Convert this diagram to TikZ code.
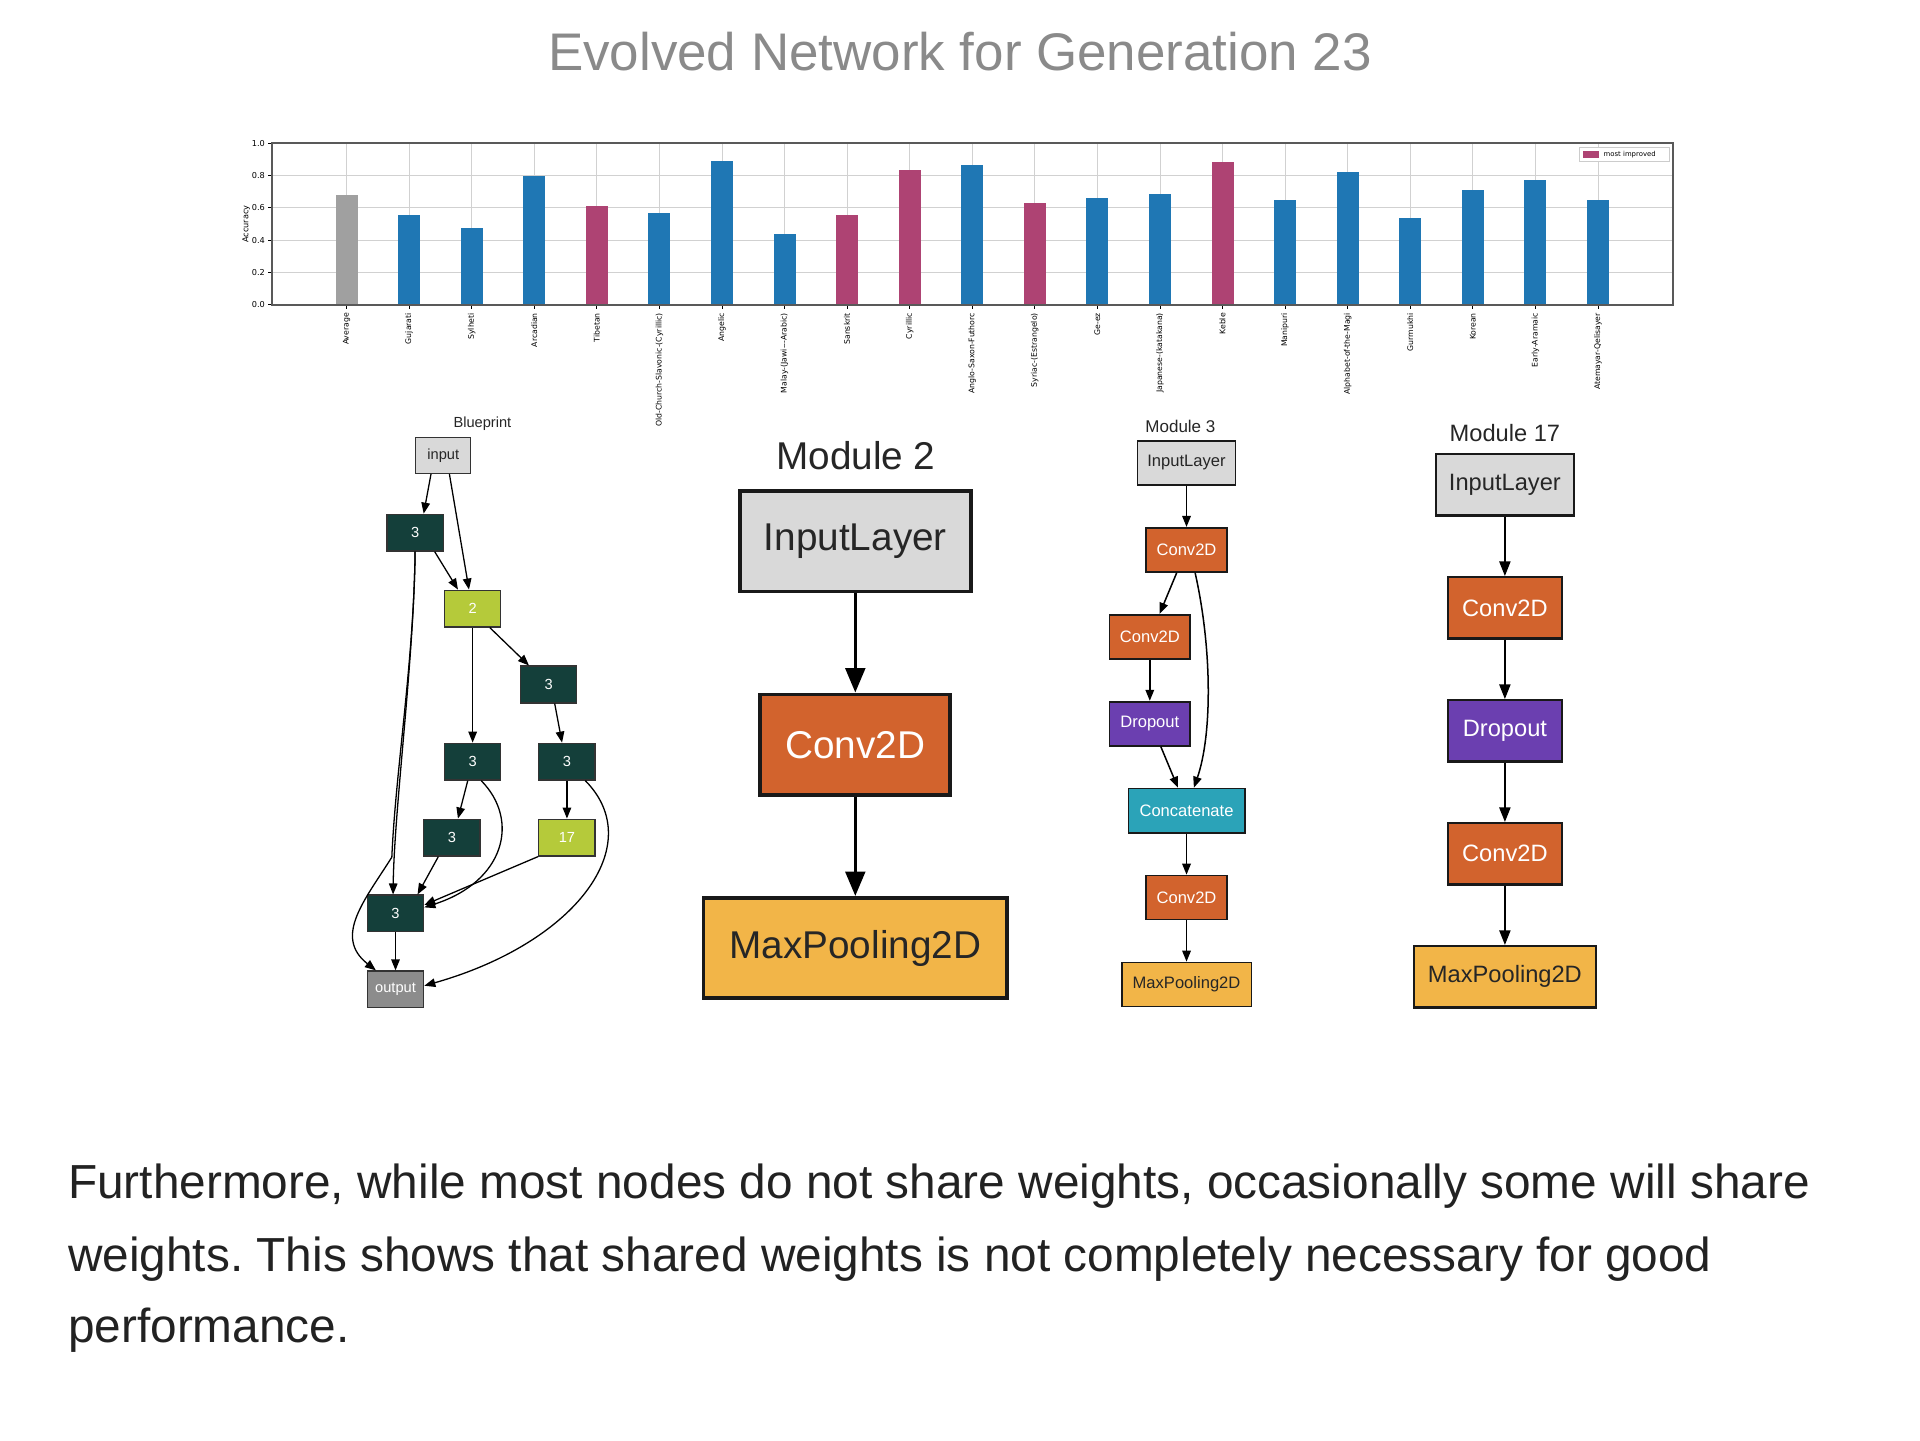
\documentclass[tikz,border=0pt]{standalone}
\usepackage{fontspec}
\setmainfont{Liberation Sans}
\newfontfamily\chartfont{DejaVu Sans}
\usepackage{xcolor}
\usepackage{tikz}
\usetikzlibrary{arrows.meta, positioning}
\definecolor{barblue}{RGB}{31,119,180}
\definecolor{barpink}{RGB}{174,67,115}
\definecolor{bargray}{RGB}{160,160,160}
\definecolor{layergray}{RGB}{217,217,217}
\definecolor{convorange}{RGB}{210,99,45}
\definecolor{poolyellow}{RGB}{242,181,72}
\definecolor{droppurple}{RGB}{107,63,176}
\definecolor{catteal}{RGB}{43,163,184}
\definecolor{moddark}{RGB}{20,63,58}
\definecolor{modlime}{RGB}{181,202,58}
\definecolor{outgray}{RGB}{140,140,140}
\definecolor{titlegray}{RGB}{138,138,138}
\definecolor{bodytext}{RGB}{34,34,34}
\frenchspacing

\begin{document}
\begin{tikzpicture}[
            x=0.1mm, y=-0.1mm,
            gridline/.style={draw=black!18, line width=0.2pt},
            ticklabel/.style={inner sep=0pt, font=\chartfont\fontsize{1.9}{2.2}\selectfont},
            barlabel/.style={rotate=90, anchor=east, inner sep=0pt, font=\chartfont\fontsize{1.8}{2}\selectfont},
            bpnode/.style={rectangle, draw=black!80, line width=0.3pt, minimum width=4.6mm, minimum height=3mm, inner sep=0pt, font=\fontsize{3.4}{4}\selectfont, text=white},
            bparrow/.style={-{Triangle[length=0.9mm, width=0.7mm]}, line width=0.3pt},
            m2box/.style={rectangle, draw=black!90, line width=0.9pt, minimum height=8.2mm, inner sep=0pt, font=\fontsize{9}{10}\selectfont, text=black!85},
            m2arrow/.style={-{Triangle[length=2mm, width=1.6mm]}, line width=0.8pt},
            m3box/.style={rectangle, draw=black!90, line width=0.4pt, minimum width=6.6mm, minimum height=3.6mm, inner sep=0pt, font=\fontsize{3.85}{4.5}\selectfont, text=white},
            m3arrow/.style={-{Triangle[length=0.9mm, width=0.7mm]}, line width=0.35pt},
            m17box/.style={rectangle, draw=black!90, line width=0.55pt, minimum width=9.3mm, minimum height=5mm, inner sep=0pt, font=\fontsize{5.5}{6.5}\selectfont, text=white},
            m17arrow/.style={-{Triangle[length=1.2mm, width=0.9mm]}, line width=0.5pt},
            bodyline/.style={anchor=base west, inner sep=0pt, font=\fontsize{11.1}{13}\selectfont, text=bodytext}
        ]
            \fill[white] (0,0) rectangle (1568,1176);
            \useasboundingbox (0,0) rectangle (1568,1176);

            \node[font=\fontsize{12.3}{14}\selectfont, text=titlegray] (title) at (784,42) {Evolved Network for Generation 23};

            % accuracy per alphabet
            \foreach \yt in {0.0,0.2,0.4,0.6,0.8,1.0} {
                \draw[gridline] (222,{249-132*\yt}) -- (1366,{249-132*\yt});
                \draw[line width=0.2pt] (219,{249-132*\yt}) -- (222,{249-132*\yt});
                \node[ticklabel, anchor=east] at (217,{249-132*\yt}) {\yt};
            }
            \foreach \name/\acc/\col [count=\i from 0] in {Average/0.68/bargray, Gujarati/0.557/barblue, Sylheti/0.474/barblue, Arcadian/0.80/barblue, Tibetan/0.614/barpink, Old-Church-Slavonic-(Cyrillic)/0.571/barblue, Angelic/0.889/barblue, Malay-(Jawi-{}-{}-Arabic)/0.437/barblue, Sanskrit/0.555/barpink, Cyrillic/0.835/barpink, Anglo-Saxon-Futhorc/0.864/barblue, Syriac-(Estrangelo)/0.633/barpink, Ge-ez/0.664/barblue, Japanese-(katakana)/0.689/barblue, Keble/0.887/barpink, Manipuri/0.652/barblue, Alphabet-of-the-Magi/0.825/barblue, Gurmukhi/0.54/barblue, Korean/0.713/barblue, Early-Aramaic/0.775/barblue, Atemayar-Qelisayer/0.647/barblue} {
                \pgfmathsetmacro\bx{283+51.1*\i}
                \draw[gridline] (\bx,117) -- (\bx,249);
                \fill[\col] ({\bx-9},249) rectangle ({\bx+9},{249-132*\acc});
                \draw[line width=0.2pt] (\bx,249) -- (\bx,252);
                \node[barlabel] at (\bx,255) {\name};
            }
            \draw[black!65, line width=0.45pt] (222,117) rectangle (1366,249);
            \node[ticklabel, rotate=90] (acclabel) at (201,183) {Accuracy};
            \draw[draw=black!20, fill=white, line width=0.2pt] (1290,120) rectangle (1363,132);
            \fill[barpink] (1293,123) rectangle (1306,129);
            \node[ticklabel, anchor=west, font=\chartfont\fontsize{1.6}{2}\selectfont] (legend) at (1309,126) {most improved};

            % blueprint
            \node[font=\fontsize{3.4}{4}\selectfont, text=black!85] (bptitle) at (394,346) {Blueprint};
            \node[bpnode, fill=layergray, text=black!85, minimum width=4.5mm, minimum height=2.9mm] (input) at (362,372) {input};
            \node[bpnode, fill=moddark] (b3a) at (339,435) {3};
            \node[bpnode, fill=modlime] (b2) at (386,497) {2};
            \node[bpnode, fill=moddark] (b3b) at (448,559) {3};
            \node[bpnode, fill=moddark] (b3c) at (386,622) {3};
            \node[bpnode, fill=moddark] (b3d) at (463,622) {3};
            \node[bpnode, fill=moddark] (b3e) at (369,684) {3};
            \node[bpnode, fill=modlime] (b17) at (463,684) {17};
            \node[bpnode, fill=moddark] (b3f) at (323,746) {3};
            \node[bpnode, fill=outgray] (output) at (323,808) {output};

            \draw[bparrow] ([xshift=-1mm]input.south) -- ([xshift=0.7mm]b3a.north);
            \draw[bparrow] ([xshift=0.5mm]input.south) -- ([xshift=-0.3mm]b2.north);
            \draw[bparrow] ([xshift=1.6mm]b3a.south) -- ([xshift=-1.2mm]b2.north);
            \draw[bparrow] (b3a.south) .. controls (338,540) and (322,660) .. ([xshift=-0.2mm]b3f.north);
            \draw[bparrow] (b3a.south) .. controls (338,540) and (323,630) .. (320,700) .. controls (298,735) and (272,765) .. ([xshift=-1.6mm]output.north);
            \draw[bparrow] ([xshift=1.4mm]b2.south) -- ([xshift=-1.6mm]b3b.north);
            \draw[bparrow] (b2) -- (b3c);
            \draw[bparrow] ([xshift=0.5mm]b3b.south) -- ([xshift=-0.4mm]b3d.north);
            \draw[bparrow] ([xshift=-0.4mm]b3c.south) -- ([xshift=0.5mm]b3e.north);
            \draw[bparrow] ([xshift=0.7mm]b3c.south) .. controls (425,670) and (412,720) .. ([yshift=0.5mm]b3f.east);
            \draw[bparrow] (b3d) -- (b17);
            \draw[bparrow] ([xshift=1.5mm]b3d.south) .. controls (530,690) and (470,770) .. ([yshift=0.3mm]output.east);
            \draw[bparrow] ([xshift=-1.1mm]b3e.south) -- ([xshift=1.8mm]b3f.north);
            \draw[bparrow] (b17.south west) -- ([yshift=0.7mm]b3f.east);
            \draw[bparrow] (b3f) -- (output);

            % module 2
            \node[font=\fontsize{9}{10}\selectfont, text=black!85] (m2title) at (699,372) {Module 2};
            \node[m2box, fill=layergray, minimum width=18.9mm] (m2in) at (698.5,442) {InputLayer};
            \node[m2box, fill=convorange, text=white, minimum width=15.5mm, below=8.1mm of m2in] (m2conv) {Conv2D};
            \node[m2box, fill=poolyellow, minimum width=24.8mm, below=8.1mm of m2conv] (m2pool) {MaxPooling2D};
            \draw[m2arrow] (m2in) -- (m2conv);
            \draw[m2arrow] (m2conv) -- (m2pool);

            % module 3
            \node[font=\fontsize{3.95}{4.5}\selectfont, text=black!85] (m3title) at (964,348) {Module 3};
            \node[m3box, fill=layergray, text=black!85, minimum width=8mm] (m3in) at (969,378) {InputLayer};
            \node[m3box, fill=convorange, below=3.36mm of m3in] (m3conva) {Conv2D};
            \node[m3box, fill=convorange, below=3.36mm of m3conva, xshift=-3mm] (m3convb) {Conv2D};
            \node[m3box, fill=droppurple, below=3.36mm of m3convb] (m3drop) {Dropout};
            \node[m3box, fill=catteal, minimum width=9.5mm, below=3.36mm of m3drop, xshift=3mm] (m3cat) {Concatenate};
            \node[m3box, fill=convorange, below=3.36mm of m3cat] (m3convc) {Conv2D};
            \node[m3box, fill=poolyellow, text=black!85, minimum width=10.6mm, below=3.36mm of m3convc] (m3pool) {MaxPooling2D};
            \draw[m3arrow] (m3in) -- (m3conva);
            \draw[m3arrow] ([xshift=-0.8mm]m3conva.south) -- ([xshift=0.8mm]m3convb.north);
            \draw[m3arrow] (m3convb) -- (m3drop);
            \draw[m3arrow] ([xshift=0.9mm]m3drop.south) -- ([xshift=-0.7mm]m3cat.north);
            \draw[m3arrow] ([xshift=0.7mm]m3conva.south) .. controls (990,530) and (990,600) .. ([xshift=0.6mm]m3cat.north);
            \draw[m3arrow] (m3cat) -- (m3convc);
            \draw[m3arrow] (m3convc) -- (m3pool);

            % module 17
            \node[font=\fontsize{5.5}{6.5}\selectfont, text=black!85] (m17title) at (1229,354) {Module 17};
            \node[m17box, fill=layergray, text=black!85, minimum width=11.3mm] (m17in) at (1229,396) {InputLayer};
            \node[m17box, fill=convorange, below=4.85mm of m17in] (m17conva) {Conv2D};
            \node[m17box, fill=droppurple, below=4.85mm of m17conva] (m17drop) {Dropout};
            \node[m17box, fill=convorange, below=4.85mm of m17drop] (m17convb) {Conv2D};
            \node[m17box, fill=poolyellow, text=black!85, minimum width=14.9mm, below=4.85mm of m17convb] (m17pool) {MaxPooling2D};
            \draw[m17arrow] (m17in) -- (m17conva);
            \draw[m17arrow] (m17conva) -- (m17drop);
            \draw[m17arrow] (m17drop) -- (m17convb);
            \draw[m17arrow] (m17convb) -- (m17pool);

            % caption text
            \node[bodyline] (line1) at (55,979) {Furthermore, while most nodes do not share weights, occasionally some will share};
            \node[bodyline] (line2) at (55,1038) {weights. This shows that shared weights is not completely necessary for good};
            \node[bodyline] (line3) at (55,1096) {performance.};
        \end{tikzpicture}
\end{document}
